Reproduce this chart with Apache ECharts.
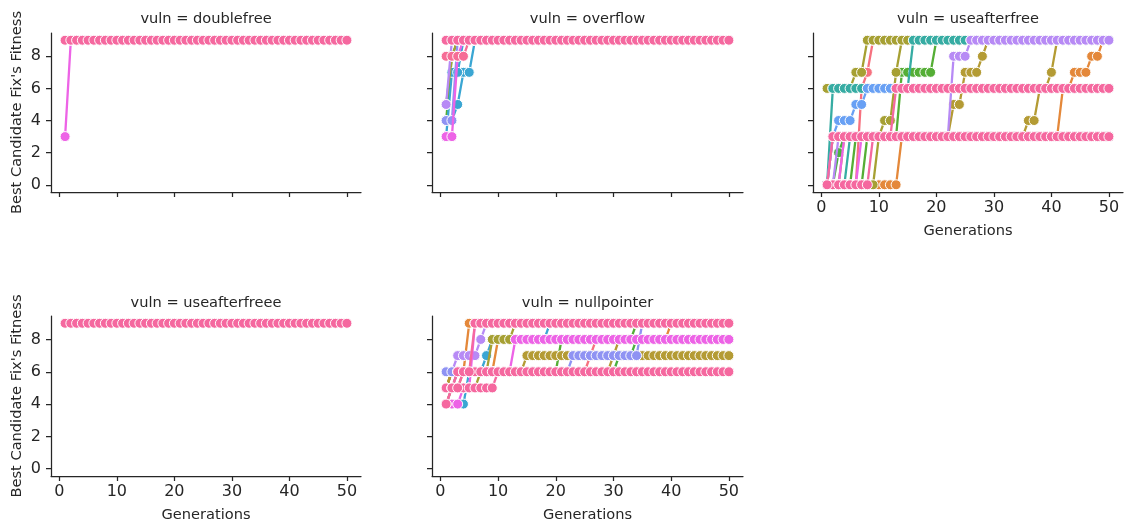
<!DOCTYPE html>
<html><head><meta charset="utf-8">
<script src="https://cdn.jsdelivr.net/npm/echarts@6/dist/echarts.min.js"></script>
<style>html,body{margin:0;padding:0;background:#fff}#chart{width:1127px;height:525px}</style>
</head><body><div id="chart"></div>
<script>
// ---------- data ----------
const GENERATIONS = [1,2,3,4,5,6,7,8,9,10, 11,12,13,14,15,16,17,18,19,20, 21,22,23,24,25,26,27,28,29,30, 31,32,33,34,35,36,37,38,39,40, 41,42,43,44,45,46,47,48,49,50];
const X_TICKS = [0,10,20,30,40,50];
const Y_TICKS = [0,2,4,6,8];
const PANEL_TITLES = ['vuln = doublefree','vuln = overflow','vuln = useafterfree','vuln = useafterfreee','vuln = nullpointer'];
const X_NAME = 'Generations';
const Y_NAME = "Best Candidate Fix's Fitness";

// doublefree
const df_magenta = [3,9,9,9,9,9,9,9,9,9, 9,9,9,9,9,9,9,9,9,9, 9,9,9,9,9,9,9,9,9,9, 9,9,9,9,9,9,9,9,9,9, 9,9,9,9,9,9,9,9,9,9];
const df_pink    = [9,9,9,9,9,9,9,9,9,9, 9,9,9,9,9,9,9,9,9,9, 9,9,9,9,9,9,9,9,9,9, 9,9,9,9,9,9,9,9,9,9, 9,9,9,9,9,9,9,9,9,9];

// overflow
const of_green    = [4,8,9,9,9,9,9,9,9,9, 9,9,9,9,9,9,9,9,9,9, 9,9,9,9,9,9,9,9,9,9, 9,9,9,9,9,9,9,9,9,9, 9,9,9,9,9,9,9,9,9,9];
const of_sky1     = [4,4,5,7,7,9,9,9,9,9, 9,9,9,9,9,9,9,9,9,9, 9,9,9,9,9,9,9,9,9,9, 9,9,9,9,9,9,9,9,9,9, 9,9,9,9,9,9,9,9,9,9];
const of_sky2     = [3,7,7,9,9,9,9,9,9,9, 9,9,9,9,9,9,9,9,9,9, 9,9,9,9,9,9,9,9,9,9, 9,9,9,9,9,9,9,9,9,9, 9,9,9,9,9,9,9,9,9,9];
const of_olive    = [5,8,9,9,9,9,9,9,9,9, 9,9,9,9,9,9,9,9,9,9, 9,9,9,9,9,9,9,9,9,9, 9,9,9,9,9,9,9,9,9,9, 9,9,9,9,9,9,9,9,9,9];
const of_lavender = [4,4,9,9,9,9,9,9,9,9, 9,9,9,9,9,9,9,9,9,9, 9,9,9,9,9,9,9,9,9,9, 9,9,9,9,9,9,9,9,9,9, 9,9,9,9,9,9,9,9,9,9];
const of_purple   = [5,9,9,9,9,9,9,9,9,9, 9,9,9,9,9,9,9,9,9,9, 9,9,9,9,9,9,9,9,9,9, 9,9,9,9,9,9,9,9,9,9, 9,9,9,9,9,9,9,9,9,9];
const of_magenta  = [3,3,8,9,9,9,9,9,9,9, 9,9,9,9,9,9,9,9,9,9, 9,9,9,9,9,9,9,9,9,9, 9,9,9,9,9,9,9,9,9,9, 9,9,9,9,9,9,9,9,9,9];
const of_pink8    = [8,8,8,8,9,9,9,9,9,9, 9,9,9,9,9,9,9,9,9,9, 9,9,9,9,9,9,9,9,9,9, 9,9,9,9,9,9,9,9,9,9, 9,9,9,9,9,9,9,9,9,9];
const of_pink     = [9,9,9,9,9,9,9,9,9,9, 9,9,9,9,9,9,9,9,9,9, 9,9,9,9,9,9,9,9,9,9, 9,9,9,9,9,9,9,9,9,9, 9,9,9,9,9,9,9,9,9,9];

// useafterfree
const uaf_salmon   = [0,0,0,0,0,0,6,7,9,9, 9,9,9,9,9,9,9,9,9,9, 9,9,9,9,9,9,9,9,9,9, 9,9,9,9,9,9,9,9,9,9, 9,9,9,9,9,9,9,9,9,9];
const uaf_olive1   = [6,6,6,6,6,7,7,9,9,9, 9,9,9,9,9,9,9,9,9,9, 9,9,9,9,9,9,9,9,9,9, 9,9,9,9,9,9,9,9,9,9, 9,9,9,9,9,9,9,9,9,9];
const uaf_olive4   = [0,0,0,3,3,3,3,3,3,3, 3,3,3,3,3,3,3,3,3,3, 3,3,5,5,7,7,7,8,9,9, 9,9,9,9,9,9,9,9,9,9, 9,9,9,9,9,9,9,9,9,9];
const uaf_olive3   = [0,3,3,3,3,3,3,3,3,3, 3,3,3,3,3,3,3,3,3,3, 3,3,3,3,3,3,3,3,3,3, 3,3,3,3,3,4,4,6,6,7, 9,9,9,9,9,9,9,9,9,9];
const uaf_green1   = [0,0,0,0,0,0,0,3,3,3, 3,3,3,7,7,7,7,7,7,9, 9,9,9,9,9,9,9,9,9,9, 9,9,9,9,9,9,9,9,9,9, 9,9,9,9,9,9,9,9,9,9];
const uaf_green2   = [0,0,2,3,3,3,3,3,3,3, 3,3,3,3,3,3,3,3,3,3, 3,3,3,3,3,3,3,3,3,3, 3,3,3,3,3,3,3,3,3,3, 3,3,3,3,3,3,3,3,3,3];
const uaf_orange   = [0,0,0,0,0,0,0,0,0,0, 0,0,0,3,3,3,3,3,3,3, 3,3,3,3,3,3,3,3,3,3, 3,3,3,3,3,3,3,3,3,3, 3,6,6,7,7,7,8,8,9,9];
const uaf_olive2   = [0,0,0,0,0,0,0,0,0,3, 4,4,7,9,9,9,9,9,9,9, 9,9,9,9,9,9,9,9,9,9, 9,9,9,9,9,9,9,9,9,9, 9,9,9,9,9,9,9,9,9,9];
const uaf_purple2  = [0,0,3,3,3,3,3,3,3,3, 3,3,3,3,3,3,3,3,3,3, 3,3,3,3,3,3,3,3,3,3, 3,3,3,3,3,3,3,3,3,3, 3,3,3,3,3,3,3,3,3,3];
const uaf_magenta2 = [0,0,0,3,3,3,3,3,3,3, 3,3,3,3,3,3,3,3,3,3, 3,3,3,3,3,3,3,3,3,3, 3,3,3,3,3,3,3,3,3,3, 3,3,3,3,3,3,3,3,3,3];
const uaf_teal2    = [0,0,0,0,3,3,3,3,3,3, 3,3,3,3,3,3,3,3,3,3, 3,3,3,3,3,3,3,3,3,3, 3,3,3,3,3,3,3,3,3,3, 3,3,3,3,3,3,3,3,3,3];
const uaf_green3   = [0,0,0,0,0,3,3,3,3,3, 3,3,3,3,3,3,3,3,3,3, 3,3,3,3,3,3,3,3,3,3, 3,3,3,3,3,3,3,3,3,3, 3,3,3,3,3,3,3,3,3,3];
const uaf_magenta3 = [0,0,0,0,0,0,3,3,3,3, 3,3,3,3,3,3,3,3,3,3, 3,3,3,3,3,3,3,3,3,3, 3,3,3,3,3,3,3,3,3,3, 3,3,3,3,3,3,3,3,3,3];
const uaf_teal1    = [0,6,6,6,6,6,6,6,6,6, 6,6,6,6,6,9,9,9,9,9, 9,9,9,9,9,9,9,9,9,9, 9,9,9,9,9,9,9,9,9,9, 9,9,9,9,9,9,9,9,9,9];
const uaf_blue1    = [0,3,4,4,4,5,5,6,6,6, 6,6,6,6,6,6,6,6,6,6, 6,6,6,6,6,6,6,6,6,6, 6,6,6,6,6,6,6,6,6,6, 6,6,6,6,6,6,6,6,6,6];
const uaf_purple1  = [0,3,3,3,3,3,3,3,3,3, 3,3,3,3,3,3,3,3,3,3, 3,3,8,8,8,9,9,9,9,9, 9,9,9,9,9,9,9,9,9,9, 9,9,9,9,9,9,9,9,9,9];
const uaf_pinkB    = [0,0,0,0,0,0,0,0,3,3, 3,3,6,6,6,6,6,6,6,6, 6,6,6,6,6,6,6,6,6,6, 6,6,6,6,6,6,6,6,6,6, 6,6,6,6,6,6,6,6,6,6];
const uaf_pinkA    = [0,3,3,3,3,3,3,3,3,3, 3,3,3,3,3,3,3,3,3,3, 3,3,3,3,3,3,3,3,3,3, 3,3,3,3,3,3,3,3,3,3, 3,3,3,3,3,3,3,3,3,3];

// useafterfreee
const uafe_pink = [9,9,9,9,9,9,9,9,9,9, 9,9,9,9,9,9,9,9,9,9, 9,9,9,9,9,9,9,9,9,9, 9,9,9,9,9,9,9,9,9,9, 9,9,9,9,9,9,9,9,9,9];

// nullpointer
const np_sky      = [4,4,4,4,6,6,6,7,8,8, 8,8,8,8,8,8,8,8,9,9, 9,9,9,9,9,9,9,9,9,9, 9,9,9,9,9,9,9,9,9,9, 9,9,9,9,9,9,9,9,9,9];
const np_orange2  = [5,6,6,6,6,6,6,6,6,8, 8,8,8,8,8,8,8,8,8,8, 8,8,8,8,8,8,8,8,8,8, 8,8,8,8,8,8,8,8,8,9, 9,9,9,9,9,9,9,9,9,9];
const np_green1   = [4,5,6,6,6,6,6,6,6,6, 6,6,6,6,6,6,6,6,6,6, 8,8,8,8,8,8,8,8,8,8, 8,8,8,9,9,9,9,9,9,9, 9,9,9,9,9,9,9,9,9,9];
const np_green2   = [5,6,6,6,6,6,6,6,6,6, 6,6,6,6,6,6,6,6,6,6, 6,6,6,6,6,6,6,6,6,6, 7,7,7,8,8,8,8,8,8,8, 8,8,8,8,8,8,8,8,8,8];
const np_salmon   = [5,6,6,6,6,6,6,6,6,6, 6,6,6,6,6,6,6,6,6,6, 6,6,6,6,6,7,8,8,8,8, 8,8,8,8,8,8,8,8,8,8, 8,8,8,8,8,8,8,8,8,8];
const np_olive2   = [5,6,6,6,6,6,6,6,6,6, 6,6,6,6,6,6,6,6,6,6, 6,6,6,6,6,6,6,6,6,7, 8,8,8,8,8,8,8,8,8,8, 8,8,8,8,8,8,8,8,8,8];
const np_olive1   = [5,5,5,5,5,5,6,6,8,8, 8,8,9,9,9,9,9,9,9,9, 9,9,9,9,9,9,9,9,9,9, 9,9,9,9,9,9,9,9,9,9, 9,9,9,9,9,9,9,9,9,9];
const np_olive3   = [5,6,6,6,6,6,6,6,6,6, 6,6,6,6,7,7,7,7,7,7, 7,7,7,7,7,7,7,7,7,7, 7,7,7,7,7,7,7,7,7,7, 7,7,7,7,7,7,7,7,7,7];
const np_orange1  = [5,5,5,6,9,9,9,9,9,9, 9,9,9,9,9,9,9,9,9,9, 9,9,9,9,9,9,9,9,9,9, 9,9,9,9,9,9,9,9,9,9, 9,9,9,9,9,9,9,9,9,9];
const np_purple   = [6,6,7,7,7,7,8,9,9,9, 9,9,9,9,9,9,9,9,9,9, 9,9,9,9,9,9,9,9,9,9, 9,9,9,9,9,9,9,9,9,9, 9,9,9,9,9,9,9,9,9,9];
const np_lavender = [6,6,6,6,6,6,6,6,6,6, 6,6,6,6,6,6,6,6,6,6, 6,6,7,7,7,7,7,7,7,7, 7,7,7,7,9,9,9,9,9,9, 9,9,9,9,9,9,9,9,9,9];
const np_magenta2 = [4,4,4,5,5,9,9,9,9,9, 9,9,9,9,9,9,9,9,9,9, 9,9,9,9,9,9,9,9,9,9, 9,9,9,9,9,9,9,9,9,9, 9,9,9,9,9,9,9,9,9,9];
const np_magenta1 = [5,5,6,6,6,6,6,6,6,6, 6,6,8,8,8,8,8,8,8,8, 8,8,8,8,8,8,8,8,8,8, 8,8,8,8,8,8,8,8,8,8, 8,8,8,8,8,8,8,8,8,8];
const np_pinkA    = [5,5,5,5,5,5,5,5,5,6, 6,6,6,6,6,6,6,6,6,6, 6,6,6,6,6,6,6,6,6,6, 6,6,6,6,6,6,6,6,6,6, 6,6,6,6,6,6,6,6,6,6];
const np_pinkB    = [4,5,6,6,6,6,6,6,6,6, 6,6,6,6,6,6,6,6,6,6, 6,6,6,6,6,6,6,6,6,6, 6,6,6,6,6,6,6,6,6,6, 6,6,6,6,6,6,6,6,6,6];
const np_pink9    = [4,5,5,6,6,9,9,9,9,9, 9,9,9,9,9,9,9,9,9,9, 9,9,9,9,9,9,9,9,9,9, 9,9,9,9,9,9,9,9,9,9, 9,9,9,9,9,9,9,9,9,9];

// runs per panel, in drawing order (last on top)
const PANEL_RUNS = [
  [df_magenta, df_pink],
  [of_green, of_sky1, of_sky2, of_olive, of_lavender, of_purple, of_magenta, of_pink8, of_pink],
  [uaf_salmon, uaf_olive1, uaf_olive4, uaf_olive3, uaf_green1, uaf_green2, uaf_orange, uaf_olive2,
   uaf_purple2, uaf_magenta2, uaf_teal2, uaf_green3, uaf_magenta3, uaf_teal1, uaf_blue1, uaf_purple1, uaf_pinkB, uaf_pinkA],
  [uafe_pink],
  [np_sky, np_orange2, np_green1, np_green2, np_salmon, np_olive2, np_olive1, np_olive3, np_orange1,
   np_purple, np_lavender, np_magenta2, np_magenta1, np_pinkA, np_pinkB, np_pink9]
];

// ---------- styles ----------
const C = {
  pink:'#f5689f', pink2:'#f66d96', magenta:'#ed63e6', purple:'#b78af5', lavender:'#8f93f3',
  blue:'#68a0f4', sky:'#3aa6d3', teal:'#36aca3', green:'#55ae36', green2:'#4cb040',
  olive:'#a6a033', olive2:'#b49b34', orange:'#e4883a', salmon:'#f6717f'
};
const PANEL_COLORS = [
  [C.magenta, C.pink],
  [C.green, C.sky, C.sky, C.olive, C.lavender, C.purple, C.magenta, C.pink2, C.pink],
  [C.salmon, C.olive, C.olive2, C.olive2, C.green, C.green2, C.orange, C.olive,
   C.purple, C.magenta, C.teal, C.green, C.magenta, C.teal, C.blue, C.purple, C.pink, C.pink],
  [C.pink],
  [C.sky, C.orange, C.green, C.green2, C.salmon, C.olive2, C.olive, C.olive2, C.orange,
   C.purple, C.lavender, C.magenta, C.magenta, C.pink, C.pink, C.pink]
];

const GRIDS = [
  {left:51,  top:33,  width:310, height:159},
  {left:432, top:33,  width:311, height:159},
  {left:813, top:33,  width:310, height:159},
  {left:51,  top:316, width:310, height:160},
  {left:432, top:316, width:311, height:160}
];
const SHOW_X_LABELS = [false,false,true,true,true];
const SHOW_Y_LABELS = [true,false,false,true,false];
const FONT = 'DejaVu Sans';
const INK = '#262626';

const xAxes = [], yAxes = [], series = [], graphics = [];
GRIDS.forEach((g, i) => {
  const axLine = {show:true, onZero:false, lineStyle:{color:INK, width:1.25}};
  xAxes.push({
    gridIndex:i, type:'value', min:-1.45, max:52.45,
    axisLine:axLine,
    axisTick:{show:true, customValues:X_TICKS, length:5, lineStyle:{color:INK, width:1.25}},
    axisLabel:{show:SHOW_X_LABELS[i], customValues:X_TICKS, fontSize:16, color:INK, fontFamily:FONT, margin:8},
    splitLine:{show:false},
    name: SHOW_X_LABELS[i] ? X_NAME : '', nameLocation:'middle', nameGap:32,
    nameTextStyle:{fontSize:14.6, color:INK, fontFamily:FONT}
  });
  yAxes.push({
    gridIndex:i, type:'value', min:-0.45, max:9.45,
    axisLine:axLine,
    axisTick:{show:true, customValues:Y_TICKS, length:5, lineStyle:{color:INK, width:1.25}},
    axisLabel:{show:SHOW_Y_LABELS[i], customValues:Y_TICKS, fontSize:16, color:INK, fontFamily:FONT, margin:10},
    splitLine:{show:false},
    name: SHOW_Y_LABELS[i] ? Y_NAME : '', nameLocation:'middle', nameGap:26,
    nameTextStyle:{fontSize:14.6, color:INK, fontFamily:FONT}
  });
  graphics.push({
    type:'text', x: g.left + g.width/2, y: (i < 3 ? 19 : 303),
    style:{text:PANEL_TITLES[i], fontSize:14.6, fontFamily:FONT, fill:INK, align:'center', verticalAlign:'middle'}
  });
  PANEL_RUNS[i].forEach((run, k) => {
    const col = PANEL_COLORS[i][k];
    series.push({
      type:'line', xAxisIndex:i, yAxisIndex:i, z: 2 + k,
      data: GENERATIONS.map((gen, j) => [gen, run[j]]),
      symbol:'circle', symbolSize:10, showSymbol:true, showAllSymbol:true,
      lineStyle:{color:col, width:2.3},
      itemStyle:{color:col, borderColor:'#ffffff', borderWidth:1},
      emphasis:{disabled:true}, silent:true, clip:false
    });
  });
});

const chart = echarts.init(document.getElementById('chart'), null, {renderer:'canvas'});
chart.setOption({
  animation:false, backgroundColor:'#ffffff',
  grid:GRIDS, xAxis:xAxes, yAxis:yAxes, series:series, graphic:graphics
});
</script></body></html>
